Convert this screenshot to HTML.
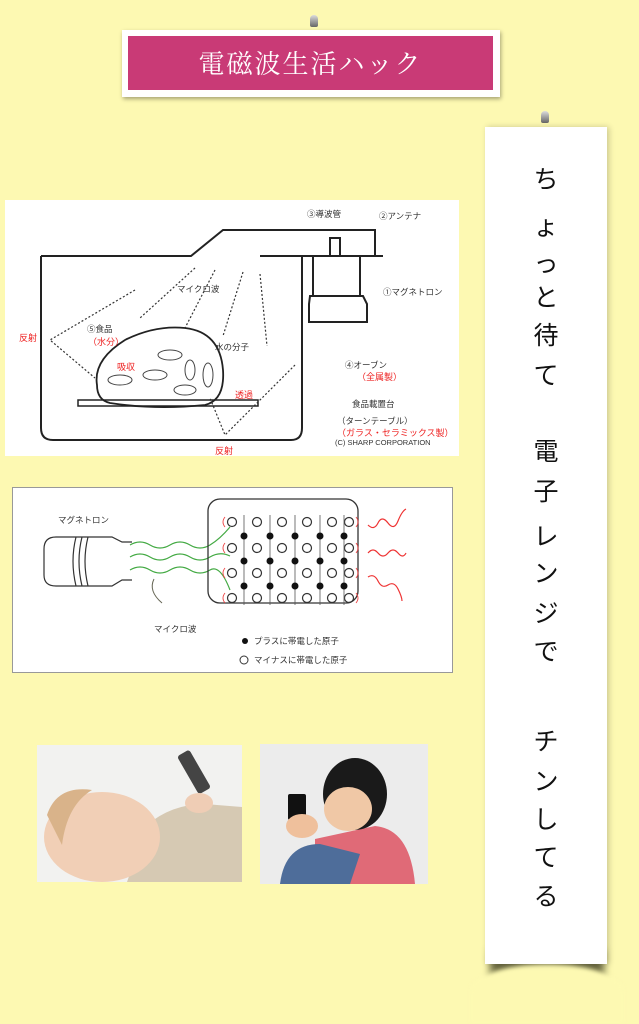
<!DOCTYPE html>
<html><head><meta charset="utf-8"><style>
body{margin:0;width:639px;height:1024px;background:#fdf9b2;position:relative;overflow:hidden;font-family:"Liberation Sans","Noto Sans CJK JP",sans-serif}
.pin{position:absolute;width:8px;height:12px;border-radius:4px 4px 2px 2px;background:linear-gradient(#ddd,#666)}
.title{position:absolute;left:122px;top:30px;width:378px;height:67px;background:#fff;box-shadow:1px 2px 4px rgba(0,0,0,.35)}
.title div{position:absolute;left:6px;top:6px;right:7px;bottom:7px;background:#c93a76;color:#fff;font-family:"Noto Serif CJK JP",serif;font-size:26px;text-align:center;line-height:54px;letter-spacing:2px}
.ban{position:absolute;left:485px;top:127px;width:122px;height:837px;background:#fff;box-shadow:2px 0 6px rgba(0,0,0,.2);z-index:2}
.ch{position:absolute;left:531px;width:30px;text-align:center;font-family:"Noto Sans CJK JP",sans-serif;font-size:25px;line-height:30px;color:#111;z-index:3}
.t{font-family:"Liberation Sans","Noto Sans CJK JP",sans-serif}
</style></head><body>
<div class="title"><div>電磁波生活ハック</div></div>
<div class="pin" style="left:310px;top:15px"></div>
<div class="ban"></div>
<div style="position:absolute;left:490px;top:950px;width:114px;height:30px;background:rgba(60,60,30,.75);filter:blur(4px);z-index:1"></div>
<div style="position:absolute;left:470px;top:964px;width:154px;height:60px;background:#fdf9b2;border-radius:50% 50% 0 0/28px 28px 0 0;filter:blur(2px);z-index:1"></div>
<div class="pin" style="left:541px;top:111px"></div>
<div class="ch" style="top:163px">ち</div>
<div class="ch" style="top:210px">ょ</div>
<div class="ch" style="top:247px">っ</div>
<div class="ch" style="top:281px">と</div>
<div class="ch" style="top:319px">待</div>
<div class="ch" style="top:359px">て</div>
<div class="ch" style="top:435px">電</div>
<div class="ch" style="top:475px">子</div>
<div class="ch" style="top:520px">レ</div>
<div class="ch" style="top:557px">ン</div>
<div class="ch" style="top:597px">ジ</div>
<div class="ch" style="top:635px">で</div>
<div class="ch" style="top:725px">チ</div>
<div class="ch" style="top:765px">ン</div>
<div class="ch" style="top:803px">し</div>
<div class="ch" style="top:841px">て</div>
<div class="ch" style="top:880px">る</div>

<svg style="position:absolute;left:5px;top:200px" width="454" height="256" viewBox="0 0 454 256">
<rect width="454" height="256" fill="#fff"/>
<g fill="none" stroke="#222" stroke-width="2">
<path d="M36 56 H186 L218 30 H370 V56"/>
<path d="M36 56 V228 Q36 240 48 240 H286 Q297 240 297 228 V56"/>
<path d="M255 56 H378"/>
<rect x="325" y="38" width="10" height="18"/>
<path d="M308 56 V96 M355 56 V96 M305 96 H358 L362 104 V122 H304 V104 Z"/>
<rect x="73" y="200" width="180" height="6" stroke-width="1.5"/>
<path d="M92 185 Q88 160 120 140 Q150 125 180 128 Q215 132 218 170 Q220 200 200 205 Q150 210 105 203 Q92 200 92 185Z" stroke-width="1.8"/>
</g>
<g fill="none" stroke="#444" stroke-width="1"><ellipse cx="165" cy="155" rx="12" ry="5"/><ellipse cx="185" cy="170" rx="5" ry="10"/><ellipse cx="203" cy="175" rx="5" ry="12"/><ellipse cx="150" cy="175" rx="12" ry="5"/><ellipse cx="115" cy="180" rx="12" ry="5"/><ellipse cx="180" cy="190" rx="11" ry="5"/></g>
<g stroke="#333" stroke-width="1.2" stroke-dasharray="2 2" fill="none">
<path d="M190 68 L135 118 M210 70 L180 128 M238 72 L218 136 M255 74 L262 146 M130 90 L45 140 L90 178 M290 165 L220 235 L205 198"/>
</g>
<g font-size="8.5" fill="#333" class="t">
<text x="302" y="17">③導波管</text><text x="374" y="19">②アンテナ</text>
<text x="378" y="95">①マグネトロン</text><text x="172" y="92">マイクロ波</text>
<text x="82" y="132">⑤食品</text><text x="210" y="150">水の分子</text>
<text x="340" y="168">④オーブン</text><text x="347" y="207">食品載置台</text>
<text x="332" y="224">（ターンテーブル）</text><text x="330" y="245" font-size="7.5">(C) SHARP CORPORATION</text>
</g>
<g font-size="9" fill="#e22" class="t">
<text x="14" y="141">反射</text><text x="83" y="145">（水分）</text><text x="112" y="170">吸収</text>
<text x="352" y="180">（全属製）</text><text x="230" y="198">透過</text>
<text x="332" y="236">（ガラス・セラミックス製）</text><text x="210" y="254">反射</text>
</g>
</svg>

<svg style="position:absolute;left:12px;top:487px" width="441" height="186" viewBox="0 0 441 186">
<rect x="0.5" y="0.5" width="440" height="185" fill="#fff" stroke="#999"/>
<text x="46" y="36" font-size="8.5" fill="#333" class="t">マグネトロン</text>
<path d="M44 50 H100 L110 55 H120 M44 50 Q32 50 32 62 V88 Q32 99 44 99 H100 L110 93 H120 M64 50 Q58 74 64 99 M70 50 Q64 74 70 99 M76 50 Q70 74 76 99" fill="none" stroke="#333" stroke-width="1.2"/>
<g fill="none" stroke="#4a4" stroke-width="1.2"><path d="M118 58 q10-6 20 0 t20 0 t20 0 t20 0 t20-18"/><path d="M118 70 q10-6 20 0 t20 0 t20 0 t20 0 t20-1"/><path d="M118 83 q10-6 20 0 t20 0 t20 0 t20 0 t20 20"/></g>
<rect x="196" y="12" width="150" height="104" rx="12" fill="none" stroke="#333" stroke-width="1.3"/>
<g fill="none" stroke="#333" stroke-width="1.2">
<circle cx="220" cy="35" r="4.5"/><circle cx="245" cy="35" r="4.5"/><circle cx="270" cy="35" r="4.5"/><circle cx="295" cy="35" r="4.5"/><circle cx="320" cy="35" r="4.5"/><circle cx="337" cy="35" r="4.5"/>
<circle cx="220" cy="61" r="4.5"/><circle cx="245" cy="61" r="4.5"/><circle cx="270" cy="61" r="4.5"/><circle cx="295" cy="61" r="4.5"/><circle cx="320" cy="61" r="4.5"/><circle cx="337" cy="61" r="4.5"/>
<circle cx="220" cy="86" r="4.5"/><circle cx="245" cy="86" r="4.5"/><circle cx="270" cy="86" r="4.5"/><circle cx="295" cy="86" r="4.5"/><circle cx="320" cy="86" r="4.5"/><circle cx="337" cy="86" r="4.5"/>
<circle cx="220" cy="111" r="4.5"/><circle cx="245" cy="111" r="4.5"/><circle cx="270" cy="111" r="4.5"/><circle cx="295" cy="111" r="4.5"/><circle cx="320" cy="111" r="4.5"/><circle cx="337" cy="111" r="4.5"/>
</g>
<g fill="none" stroke="#e44" stroke-width="0.9"><path d="M213 30 q-4 5 0 10 M213 56 q-4 5 0 10 M213 81 q-4 5 0 10 M213 106 q-4 5 0 10 M344 30 q4 5 0 10 M344 56 q4 5 0 10 M344 81 q4 5 0 10 M344 106 q4 5 0 10"/></g>
<g stroke="#555" stroke-width="0.8"><path d="M232 28 V118 M258 28 V118 M283 28 V118 M308 28 V118 M332 28 V118"/></g>
<g fill="#111"><circle cx="232" cy="49" r="3.5"/><circle cx="258" cy="49" r="3.5"/><circle cx="283" cy="49" r="3.5"/><circle cx="308" cy="49" r="3.5"/><circle cx="332" cy="49" r="3.5"/>
<circle cx="232" cy="74" r="3.5"/><circle cx="258" cy="74" r="3.5"/><circle cx="283" cy="74" r="3.5"/><circle cx="308" cy="74" r="3.5"/><circle cx="332" cy="74" r="3.5"/>
<circle cx="232" cy="99" r="3.5"/><circle cx="258" cy="99" r="3.5"/><circle cx="283" cy="99" r="3.5"/><circle cx="308" cy="99" r="3.5"/><circle cx="332" cy="99" r="3.5"/></g>
<g fill="none" stroke="#e33" stroke-width="1.2"><path d="M356 38 q6 6 10-2 t10 0 t10-2 t8-12"/><path d="M356 66 q5-6 10 0 t10 0 t10 0 t8 0"/><path d="M356 90 q6-4 10 4 t10 4 t10 4 t4 12"/></g>
<path d="M150 116 Q136 104 142 92" fill="none" stroke="#665" stroke-width="1"/>
<text x="142" y="145" font-size="8.5" fill="#333" class="t">マイクロ波</text>
<circle cx="233" cy="154" r="3" fill="#111"/><text x="242" y="157" font-size="8.5" fill="#333" class="t">プラスに帯電した原子</text>
<circle cx="232" cy="173" r="4" fill="none" stroke="#333"/><text x="242" y="176" font-size="8.5" fill="#333" class="t">マイナスに帯電した原子</text>
</svg>

<svg style="position:absolute;left:37px;top:745px" width="205" height="137">
<rect width="205" height="137" fill="#f2f2f0"/>
<path d="M90 137 L110 80 Q140 55 180 60 L205 62 V137Z" fill="#d6c9b3"/>
<ellipse cx="65" cy="92" rx="58" ry="45" fill="#f1cfb6"/>
<path d="M10 70 Q20 40 55 45 Q30 60 25 100Z" fill="#d9b38a"/>
<rect x="150" y="5" width="14" height="44" rx="3" fill="#444" transform="rotate(-30 157 27)"/>
<ellipse cx="162" cy="58" rx="14" ry="10" fill="#efcdb5"/>
</svg>
<svg style="position:absolute;left:260px;top:744px" width="168" height="140">
<rect width="168" height="140" fill="#ececec"/>
<path d="M55 140 V95 L115 82 Q150 85 155 140Z" fill="#e06a77"/>
<path d="M20 140 Q25 100 60 100 L100 110 L90 140Z" fill="#4e6d9a"/>
<ellipse cx="95" cy="50" rx="32" ry="36" fill="#1a1a1a"/>
<ellipse cx="88" cy="65" rx="24" ry="22" fill="#f0c8a6"/>
<rect x="28" y="50" width="18" height="26" rx="2" fill="#111"/>
<ellipse cx="42" cy="82" rx="16" ry="12" fill="#efc09c"/>
</svg>
</body></html>
